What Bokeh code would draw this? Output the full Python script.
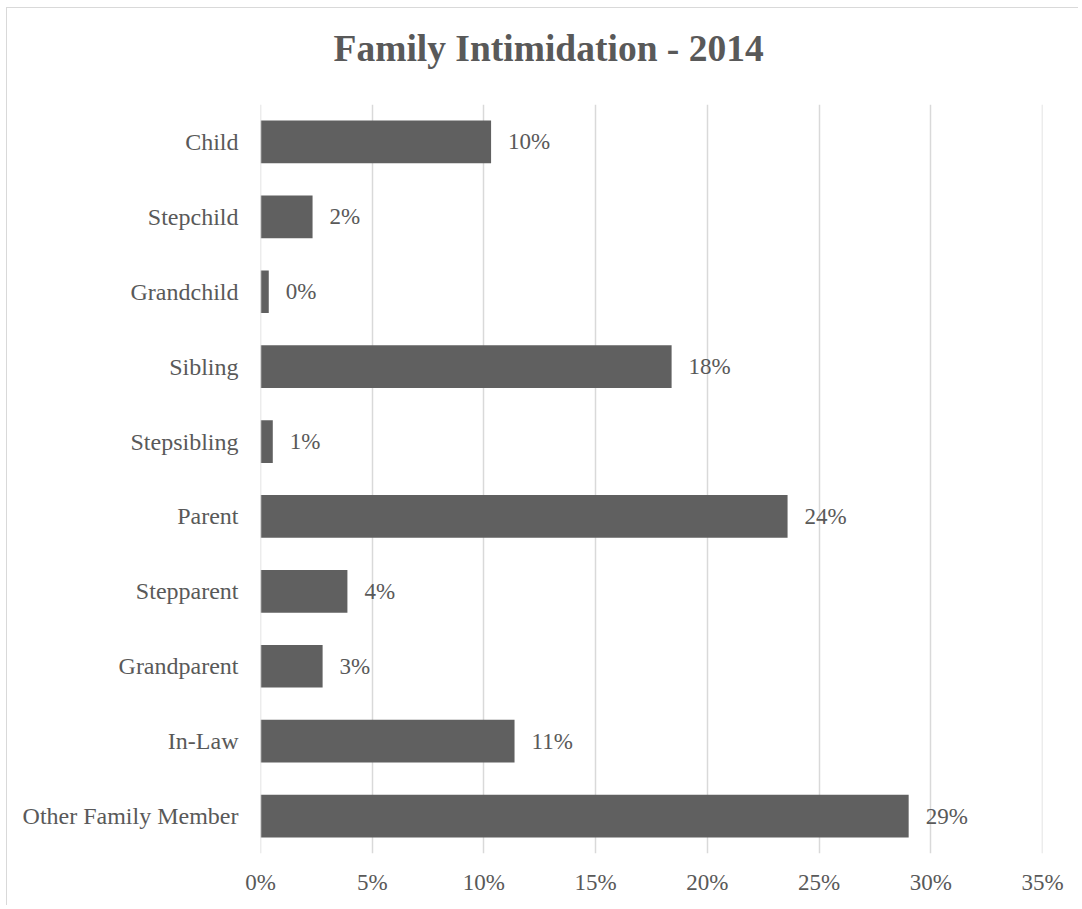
from bokeh.plotting import figure
from bokeh.models import (ColumnDataSource, FactorRange, NumeralTickFormatter, FixedTicker, Range1d,
                          Span, InlineStyleSheet, Title)
from bokeh.core.properties import value
from bokeh.embed import file_html
from bokeh.resources import INLINE

categories = ["Child", "Stepchild", "Grandchild", "Sibling", "Stepsibling", "Parent",
              "Stepparent", "Grandparent", "In-Law", "Other Family Member"]
shares = [0.1032, 0.0233, 0.0037, 0.1840, 0.0055, 0.2359, 0.0389, 0.0278, 0.1137, 0.2901]
x_ticks = [0.0, 0.05, 0.10, 0.15, 0.20, 0.25, 0.30, 0.35]
title_text = "Family Intimidation - 2014"

labels = [f"{round(v * 100)}%" for v in shares]
src = ColumnDataSource(dict(cat=categories, val=shares, lab=labels))

FONT = "Liberation Serif"
TXT = "#595959"
GRID = "#d9d9d9"

p = figure(
    width=1072, height=898, title=None,
    y_range=FactorRange(factors=list(reversed(categories)), range_padding=0),
    x_range=Range1d(x_ticks[0], x_ticks[-1]),
    output_backend="svg", toolbar_location=None,
    min_border_left=253, min_border_right=37, min_border_top=96, min_border_bottom=53,
)
p.stylesheets = [InlineStyleSheet(css=":host { margin-left: 6px; margin-top: 7px; "
                                      "border-top: 1px solid #d9d9d9; border-left: 1px solid #d9d9d9; }")]
p.outline_line_color = None
p.background_fill_color = "white"
p.border_fill_color = "white"

# spacer between the frame and the title
p.add_layout(Title(text=" ", text_font_size="10px", standoff=23), "above")
p.add_layout(Title(text=title_text, align="left", offset=73, vertical_align="bottom", standoff=0,
                   text_font=FONT, text_font_size="37.5px", text_font_style="bold",
                   text_color=TXT), "above")

p.hbar(y="cat", right="val", left=0, height=0.57, source=src,
       fill_color="#606060", line_color=None)
p.text(x="val", y="cat", text="lab", source=src, x_offset=17,
       text_align="left", text_baseline="middle",
       text_font=value(FONT), text_font_size="23px", text_color=TXT)

p.xgrid.ticker = FixedTicker(ticks=x_ticks)
p.xgrid.grid_line_color = GRID
p.xgrid.grid_line_width = 1.5
p.ygrid.grid_line_color = None
for t in (x_ticks[0], x_ticks[-1]):
    p.add_layout(Span(location=t, dimension="height", line_color=GRID, line_width=1.5))

p.xaxis.ticker = FixedTicker(ticks=x_ticks)
p.xaxis.formatter = NumeralTickFormatter(format="0%")
p.xaxis.axis_line_color = None
p.xaxis.major_tick_line_color = None
p.xaxis.major_tick_out = 0
p.xaxis.major_tick_in = 0
p.xaxis.minor_tick_line_color = None
p.xaxis.major_label_standoff = 16
p.xaxis.major_label_text_font = FONT
p.xaxis.major_label_text_font_size = "23px"
p.xaxis.major_label_text_color = TXT

p.yaxis.axis_line_color = None
p.yaxis.major_tick_line_color = None
p.yaxis.major_tick_out = 0
p.yaxis.major_tick_in = 0
p.yaxis.minor_tick_line_color = None
p.yaxis.major_label_standoff = 22
p.yaxis.major_label_text_font = FONT
p.yaxis.major_label_text_font_size = "24px"
p.yaxis.major_label_text_color = TXT

open("out.html", "w").write(file_html(p, INLINE))
